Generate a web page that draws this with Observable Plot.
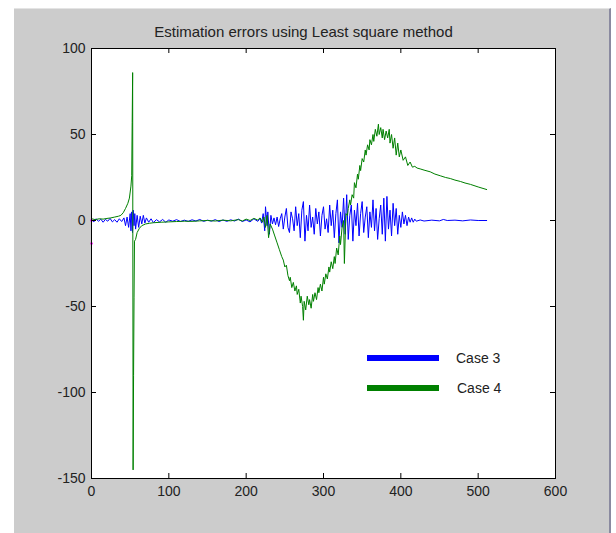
<!DOCTYPE html>
<html>
<head>
<meta charset="utf-8">
<script src="https://cdn.jsdelivr.net/npm/d3@7"></script>
<script src="https://cdn.jsdelivr.net/npm/@observablehq/plot@0.6"></script>
<style>
  html, body { margin: 0; padding: 0; background: #ffffff; }
  #wrap { position: relative; width: 616px; height: 533px; overflow: hidden; }
  #panel { position: absolute; left: 14px; top: 8px; width: 597px; height: 525px;
           background: #cccccc; border-top: 1px solid #e4e4e4; border-right: 2px solid #8a8aa0; box-sizing: border-box; }
  #chart { position: absolute; left: 0; top: 0; }
  .leg-bar { position: absolute; height: 6px; width: 72px; }
  .leg-txt { position: absolute; font-family: "Liberation Sans", Arial, sans-serif; font-size: 14px; color: #222; line-height: 14px; }
</style>
</head>
<body>
<div id="wrap">
  <div id="panel"></div>
  <div id="chart"></div>
</div>
<script>
const chartTitle = "Estimation errors using Least square method";
const seriesNames = ["Case 3", "Case 4"];
const seriesColors = ["#0000ff", "#008000"];
const xTicks = [0, 100, 200, 300, 400, 500, 600];
const yTicks = [-150, -100, -50, 0, 50, 100];

// Case 3 (blue) : [sample, error]
const case3 = [
  [0,0.5],[3,-0.8],[6,1],[9,-0.5],[12,0.8],[15,-1],[18,0.6],[21,-0.4],[24,1.2],[27,-0.8],
  [30,0.5],[33,-1],[36,1],[39,-0.6],[42,1.5],[44,-3],[46,2],[48,-4],[50,4],[51,-6],
  [52,5],[53,-7],[54,6],[55,-3],[56,4],[57,-5],[59,3],[61,-4],[63,2.5],[65,-2],
  [67,3],[69,-1.5],[71,1.5],[74,-1],[77,1],[80,-1.2],[84,0.5],[88,-0.8],[92,0.6],[96,-1],
  [100,0.3],[105,-0.4],[110,0.5],[115,-0.6],[120,0.2],[125,-0.5],[130,0.4],[135,-0.3],[140,0.6],[145,-0.5],
  [150,0.2],[155,-0.4],[160,0.5],[165,-0.6],[170,0.3],[175,-0.5],[180,0.4],[185,-0.3],[190,0.8],[195,-0.6],
  [200,0.3],[205,-0.8],[210,1],[215,-0.5],[218,1.2],[220,-1.5],[222,4],[224,-6],[225,8],[227,-3],
  [228,5],[230,-8],[232,3],[234,-2],[236,1.5],[238,-2.5],[240,2],[242,-3.5],[244,1],[246,4],
  [248,-5],[250,2],[252,7],[254,-4],[256,-7],[258,5],[260,1],[262,-6],[264,8],[266,-3],
  [268,4],[270,-10],[272,6],[274,11],[276,-12],[278,3],[280,-6],[282,9],[284,-4],[286,2],
  [288,-8],[290,7],[292,-2],[294,5],[296,-9],[298,3],[300,8],[302,-5],[304,1],[306,-7],
  [308,9],[310,-3],[312,6],[314,-10],[316,4],[318,12],[320,-13],[322,5],[324,-4],[326,13],
  [328,-8],[330,15],[332,-11],[334,3],[336,9],[338,-12],[340,6],[342,-3],[344,10],[346,-9],
  [348,4],[350,11],[352,-7],[354,2],[356,8],[358,-10],[360,5],[362,-4],[364,12],[366,-6],
  [368,7],[370,-11],[372,1],[374,9],[376,-8],[378,13],[380,-12],[382,14],[384,-5],[386,6],
  [388,-9],[390,10],[392,-3],[394,7],[396,-8],[398,3],[400,-4],[402,5],[404,-2],[406,3],
  [408,-3],[410,2],[412,-1],[414,1.5],[416,-1],[418,0.8],[420,-0.4],[425,0.3],[430,-0.3],[440,0.2],
  [450,-0.2],[455,0.6],[460,0],[470,0.2],[480,-0.2],[490,0.3],[500,0],[511,0]
];

// Case 4 (green) : [sample, error]
const case4 = [
  [0,1],[5,0.5],[10,1],[15,0.8],[20,1.2],[25,1.5],[30,2],[35,2.5],[38,3],[41,4.5],
  [44,7],[47,10],[49,13],[51,20],[52,26],[52.6,57],[53.2,86],[53.8,-145],[54.4,-90],[55,-45],
  [55.6,-12],[57,-11],[59,-7],[62,-4.5],[65,-3],[70,-2],[75,-1.6],[80,-1.3],[90,-1],[100,-0.8],
  [110,-0.6],[120,-0.4],[130,-0.5],[140,-0.2],[150,0],[160,-0.3],[170,0.2],[180,-0.2],[190,0.5],[195,-0.3],
  [200,0.8],[205,0],[210,1.2],[215,0.3],[218,1.5],[221,-1],[223,2],[225,-4],[227,3],[229,-10],
  [231,-2],[234,-5],[237,-9],[240,-13],[243,-17],[246,-21],[248,-23],[250,-27],[252,-26],[254,-32],
  [256,-35],[257,-33],[259,-39],[261,-36],[263,-41],[265,-38],[266,-43],[268,-40],[270,-48],[271,-44],
  [273,-50],[274,-58],[275,-47],[277,-52],[279,-44],[281,-49],[282,-46],[284,-51],[286,-43],[287,-47],
  [289,-42],[291,-46],[293,-39],[294,-42],[296,-37],[298,-41],[300,-33],[301,-37],[303,-31],[305,-34],
  [307,-27],[308,-30],[310,-24],[312,-28],[314,-21],[315,-25],[317,-16],[319,-20],[321,-9],[322,-14],
  [324,-4],[326,0],[327,-25],[329,4],[331,3],[332,7],[334,12],[335,9],[337,15],[339,13],
  [340,22],[342,19],[344,27],[345,24],[347,32],[348,29],[350,36],[352,34],[354,41],[355,38],
  [357,44],[359,41],[360,47],[362,44],[364,50],[365,46],[367,53],[369,49],[371,56],[372,50],
  [374,54],[376,48],[377,53],[379,47],[381,52],[383,48],[385,53],[386,45],[388,50],[390,42],
  [392,48],[394,38],[396,45],[398,37],[400,41],[403,35],[406,37],[409,32],[412,34],[415,31],
  [418,31.5],[421,30.5],[425,30],[430,29.3],[438,28.3],[444,27],[451,26],[458,25],[464,24.4],[470,23.5],
  [477,22.7],[483,21.8],[490,21],[500,19.5],[511,18]
];

// tiny magenta marks at the left edge
const case5 = [[0, 0], [0, -13.4]];

const plot = Plot.plot({
  width: 616,
  height: 533,
  marginLeft: 91,
  marginRight: 61,
  marginTop: 48,
  marginBottom: 55,
  style: {
    background: "transparent",
    fontFamily: '"Liberation Sans", Arial, sans-serif',
    fontSize: "14px",
    color: "#222"
  },
  x: { domain: [0, 600] },
  y: { domain: [-150, 100] },
  marks: [
    Plot.frame({ fill: "white", stroke: null }),
    Plot.line(case3, { x: d => d[0], y: d => d[1], stroke: seriesColors[0], strokeWidth: 1 }),
    Plot.line(case4, { x: d => d[0], y: d => d[1], stroke: seriesColors[1], strokeWidth: 1 }),
    Plot.dot(case5, { x: d => d[0], y: d => d[1], r: 1.3, fill: "#ff00ff", stroke: null, clip: false }),
    Plot.frame({ stroke: "black", strokeWidth: 1 }),
    Plot.tickX(xTicks, { x: d => d, insetTop: 425, stroke: "black" }),
    Plot.tickX(xTicks, { x: d => d, insetBottom: 425, stroke: "black" }),
    Plot.tickY(yTicks, { y: d => d, insetRight: 459, stroke: "black" }),
    Plot.tickY(yTicks, { y: d => d, insetLeft: 459, stroke: "black" }),
    Plot.axisX({ ticks: xTicks, tickSize: 0, tickPadding: 8, tickFormat: d => String(d) }),
    Plot.axisY({ ticks: yTicks, tickSize: 0, tickPadding: 6, tickFormat: d => String(d) }),
    Plot.text([chartTitle], { text: d => d, frameAnchor: "top", dy: -22, dx: -20, fontSize: 15 })
  ]
});
document.getElementById("chart").appendChild(plot);

// legend
const wrap = document.getElementById("wrap");
seriesNames.forEach((name, i) => {
  const bar = document.createElement("div");
  bar.className = "leg-bar";
  bar.style.background = seriesColors[i];
  bar.style.left = "367px";
  bar.style.top = (355 + i * 30) + "px";
  wrap.appendChild(bar);
  const t = document.createElement("div");
  t.className = "leg-txt";
  t.textContent = name;
  t.style.left = (456 + i) + "px";
  t.style.top = (351 + i * 30) + "px";
  wrap.appendChild(t);
});
</script>
</body>
</html>
